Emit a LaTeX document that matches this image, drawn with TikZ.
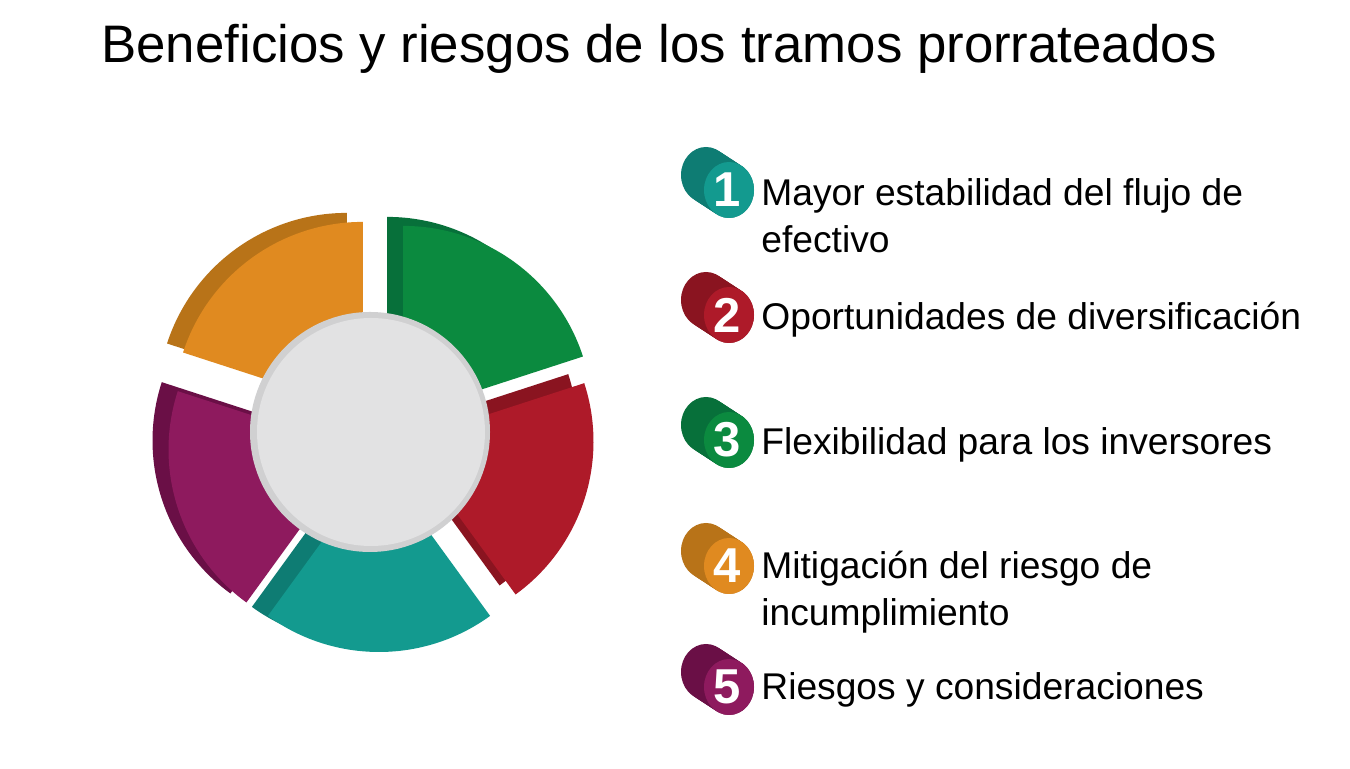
\documentclass[tikz,border=0pt]{standalone}
\usepackage{fontspec}
\setmainfont{Liberation Sans}
\definecolor{gF}{HTML}{0B8A3F}
\definecolor{gD}{HTML}{07703A}
\definecolor{rF}{HTML}{AE1A29}
\definecolor{rD}{HTML}{8A1420}
\definecolor{tF}{HTML}{139A8F}
\definecolor{tD}{HTML}{0E7C73}
\definecolor{pF}{HTML}{8E1A5E}
\definecolor{pD}{HTML}{6A0F46}
\definecolor{oF}{HTML}{E08A20}
\definecolor{oD}{HTML}{B87318}
\definecolor{hubF}{HTML}{E2E2E3}
\definecolor{hubR}{HTML}{D0D0D1}
\tikzset{
  itemtext/.style={anchor=base west, inner sep=0pt, font=\fontsize{18.6}{22}\selectfont, text=black},
  digit/.style={inner sep=0pt, font=\fontsize{24.5}{28}\selectfont\bfseries, text=white},
}
\begin{document}
\begin{tikzpicture}[x=0.5pt,y=0.5pt]
\useasboundingbox (0,0) rectangle (1350,769);
\fill[white] (0,0) rectangle (1350,769);

% title
\node[anchor=base west, inner sep=0pt, font=\fontsize{26.4}{32}\selectfont] (title) at (101,706) {Beneficios y riesgos de los tramos prorrateados};

% pie back faces
\foreach \m/\D/\ex/\ey in {54/gD/10/-8,-18/rD/0/0,-90/tD/4/0,-162/pD/12/-8,126/oD/6/-4}{
  \fill[\D, shift={(375+\ex,337+\ey)}, shift={(\m:31)}, shift={(-16,9)}]
    (\m+36:10) -- (\m+36:189) arc[start angle=\m+36, end angle=\m-36, radius=189] -- (\m-36:10) -- cycle;
}
% pie front faces
\foreach \m/\F/\ex/\ey in {54/gF/10/-8,-18/rF/0/0,-90/tF/4/0,-162/pF/12/-8,126/oF/6/-4}{
  \fill[\F, shift={(375+\ex,337+\ey)}, shift={(\m:31)}]
    (\m+36:10) -- (\m+36:189) arc[start angle=\m+36, end angle=\m-36, radius=189] -- (\m-36:10) -- cycle;
}
% hub
\fill[hubR] (370,337) circle (120);
\fill[hubF] (371,337) circle (114);

% badges
\foreach \n/\yy/\F/\D in {1/190/tF/tD,2/315/rF/rD,3/440/gF/gD,4/566/oF/oD,5/687/pF/pD}{
  \pgfmathsetmacro{\Y}{769-\yy}
  \foreach \t in {0,0.1,0.2,0.3,0.4,0.5,0.6,0.7,0.8,0.9,1.0}{
    \fill[\D] ({729-23*(1-\t)},{\Y+15*(1-\t)}) ellipse[x radius=25, y radius=28];
  }
  \fill[\F] (729,\Y) ellipse[x radius=25, y radius=28];
  \node[digit] (b\n) at (727,\Y) {\n};
}

% item texts
\node[itemtext] (t1a) at (761,563) {Mayor estabilidad del flujo de};
\node[itemtext] (t1b) at (761,516) {efectivo};
\node[itemtext] (t2) at (761,439) {Oportunidades de diversificación};
\node[itemtext] (t3) at (761,314) {Flexibilidad para los inversores};
\node[itemtext] (t4a) at (761,190) {Mitigación del riesgo de};
\node[itemtext] (t4b) at (761,143) {incumplimiento};
\node[itemtext] (t5) at (761,69) {Riesgos y consideraciones};
\end{tikzpicture}
\end{document}
